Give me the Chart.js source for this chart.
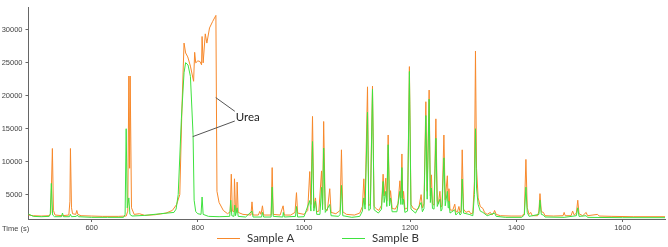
<!DOCTYPE html>
<html>
<head>
<meta charset="utf-8">
<script src="https://cdn.jsdelivr.net/npm/chart.js@4"></script>
<style>
  html, body { margin: 0; padding: 0; background: #fff; }
  #wrap { width: 668px; height: 247px; }
</style>
</head>
<body>
<div id="wrap"><canvas id="grafico"></canvas></div>
<script>
const timeA = [480,490,505,520,523,526,528,531,545,557,559,560,562,564,570,572,574,580,600,620,650,665,668,670,671.5,672.5,675,680,690,700,720,740,752,760,766,770,774,777,781,786,792,794,796,800,804,807,808,810,814,817,822,828,834,836,840,848,856,861,863,865,868,869,871,873,874,876,885,900,902,904,914,916.6,919,921.7,924,938,940,942,955,960.6,963,975,983,985.8,988,1000,1007,1010.8,1013,1016,1018.5,1021.6,1024,1028,1033,1035,1037,1040,1044,1048.5,1051,1060,1068,1070.5,1073,1080,1095,1105,1110,1112.7,1115,1119.6,1122,1125,1129,1132,1137,1141,1146,1149,1151,1154,1156,1158.5,1161,1163,1166,1172,1177,1180.6,1182.5,1184.4,1186,1187.5,1190,1195,1198.5,1201.5,1206,1212,1216,1220.6,1223,1226,1229.5,1232,1235.7,1238,1240,1242,1245,1248.4,1251,1253,1256,1258,1260,1263.5,1266,1270,1271.5,1273,1275,1280,1284,1286,1289,1291.8,1294,1296,1298,1300.5,1305,1311,1314,1318,1321,1323,1325,1328,1332,1337,1340,1345,1351,1354,1357,1359,1362,1370,1390,1410,1415,1418,1420.5,1424,1427,1430,1440,1442.5,1444.5,1447,1451,1454,1470,1488,1490,1492,1503,1506,1509,1513,1515.7,1518,1525,1531.5,1534,1553,1556,1580,1620,1680];
const sampleA = [1900,1800,1750,1800,2200,12000,2600,1900,1800,1900,4000,12000,3000,2100,2000,2600,2000,1800,1750,1700,1700,1750,2500,23000,9000,23000,3000,2000,2100,1850,1950,2200,2600,3500,5000,18000,28000,26500,25900,24500,22200,26600,25000,25300,25200,24700,29000,25000,29400,28000,30300,31300,32200,5500,3800,2600,2100,2400,8100,2500,2400,7400,2600,2300,6900,2300,2000,1900,3900,1900,1900,2450,2000,3300,1900,1900,9100,2000,1900,3300,1900,1900,2300,5300,2200,2000,2600,8500,3500,16870,3000,4500,2400,2500,8600,3500,16100,2800,2600,5900,2300,2100,2600,11800,2400,2000,1900,2200,3200,7400,3500,21360,3300,3600,21470,3200,2800,2600,3400,8100,4800,7500,4000,14050,4000,5600,2900,2800,3600,7100,4500,11170,4200,5500,2800,3000,24430,3500,2900,2700,2900,5000,3000,3600,19100,5500,20870,4800,8000,3600,3400,16500,4000,3600,5500,3100,3400,14050,4200,7860,4000,5900,2700,2600,3550,2400,2400,3200,2300,2600,11800,2800,2300,2500,2100,2200,7000,26800,9000,4500,3200,2900,2300,2000,2300,1900,2200,2600,2000,1800,1750,1750,2100,10340,3000,2000,2300,1800,1800,2500,5150,2400,2300,1800,1750,1800,2300,1800,1800,2500,1900,2200,4150,2100,1800,2300,1800,2000,1750,1700,1650,1650];

const timeB = [480,490,505,520,522,524,526.5,530,543,545,547,558,560,562,571,573,575,600,630,660,663,665,667,670,672,676,700,730,755,759,763,769,774,777,781.5,786,791,793,796,800,806,808,810,820,840,860,862,864,868,869.5,871,874,876,890,902,904,920,921.7,924,938,940,942,960,961,963,984,985.8,988,1000,1010.8,1013,1016,1018.5,1021.6,1024,1030,1033,1035,1037,1040,1048.5,1051,1065,1068,1070.5,1073,1090,1105,1110,1112.7,1115,1119.6,1122,1125,1129,1132,1140,1146,1149,1151,1154,1156,1158.5,1161,1163,1166,1175,1180.6,1182.5,1184.4,1186,1187.5,1190,1195,1198.5,1201.5,1210,1220.6,1223,1226,1229.5,1232,1235.7,1238,1240,1242,1245,1248.4,1251,1256,1258,1260,1263.5,1266,1270,1271.5,1273,1275,1284,1286,1291.8,1294,1296,1298,1300.5,1311,1318,1321,1323,1325,1328,1332,1337,1345,1359,1362,1380,1410,1415,1418,1420.5,1424,1442.5,1444.5,1447,1451,1454,1490,1513,1515.7,1518,1531.5,1534,1600,1680];
const sampleB = [2100,1700,1650,1700,2000,6700,1900,1650,1650,2200,1650,1650,2000,1650,1700,1900,1650,1550,1550,1550,2000,15000,3000,4500,2000,1750,1850,2100,2300,2800,5000,16500,23500,25030,24680,22950,14080,4150,2420,2100,2000,4640,2000,1700,1650,1700,4150,1800,1700,3400,1800,3000,1700,1600,2500,1600,1600,2300,1600,1600,6130,1700,1600,2300,1600,1700,3200,1600,1650,4100,2500,13060,2500,4000,2000,2000,6100,2700,12060,2300,3500,1800,1700,2000,6400,1800,1550,1700,2500,4500,2800,17500,2600,2800,20960,2700,2200,2800,7000,3800,5500,3200,12570,3300,4500,2400,2400,5500,3500,9100,3500,4300,2300,2500,23700,2800,2200,3800,2400,2900,17000,4300,19480,3800,6000,2900,2800,13550,3200,4300,2500,2800,10580,3300,5500,3000,4000,2200,2700,1900,2400,1900,2100,7370,2200,2000,1800,5000,15000,6000,3500,2500,2300,1800,2200,1700,1550,1550,1900,6130,2300,1700,2000,4150,2000,1900,1600,1550,1800,3000,1700,1800,1550,1500,1500];

const legendas = ['Sample A', 'Sample B'];
const cores = ['#f7892c', '#3fe23f'];
const yTicks = [5000, 10000, 15000, 20000, 25000, 30000];
const xTicks = [600, 800, 1000, 1200, 1400, 1600];

// anotação "Urea": pontos em unidades dos dados
const ureaTexto = { t: 871.5, v: 16770, label: 'Urea' };
const ureaLinhas = [
    [[833.7, 19730], [869.6, 17650]],
    [[790.4, 13800], [869.6, 16170]]
];

function juntar(ts, vs) {
    let pts = [];
    for (let i = 0; i < ts.length; i++) {
        pts.push({ x: ts[i], y: vs[i] });
    }
    return pts;
}

const pluginExtras = {
    id: 'extras',
    afterDatasetsDraw(chart) {
        const ctx = chart.ctx;
        const sx = chart.scales.x;
        const sy = chart.scales.y;
        const area = chart.chartArea;

        // linhas da anotação
        ctx.save();
        ctx.strokeStyle = '#555';
        ctx.lineWidth = 1;
        ureaLinhas.forEach(function (l) {
            ctx.beginPath();
            ctx.moveTo(sx.getPixelForValue(l[0][0]), sy.getPixelForValue(l[0][1]));
            ctx.lineTo(sx.getPixelForValue(l[1][0]), sy.getPixelForValue(l[1][1]));
            ctx.stroke();
        });
        ctx.fillStyle = '#222';
        ctx.font = '11.5px Lato';
        ctx.textAlign = 'left';
        ctx.textBaseline = 'middle';
        ctx.fillText(ureaTexto.label, sx.getPixelForValue(ureaTexto.t), sy.getPixelForValue(ureaTexto.v));

        // rótulo do eixo x à esquerda
        ctx.fillStyle = '#444';
        ctx.font = '7.5px "Liberation Sans"';
        ctx.fillText('Time (s)', 2, area.bottom + 10);

        // legenda
        const lx = [217, 342];
        const ly = 238.5;
        ctx.font = '11.5px Lato';
        for (let i = 0; i < legendas.length; i++) {
            ctx.strokeStyle = cores[i];
            ctx.beginPath();
            ctx.moveTo(lx[i], ly);
            ctx.lineTo(lx[i] + 23, ly);
            ctx.stroke();
            ctx.fillStyle = '#333';
            ctx.fillText(legendas[i], lx[i] + 30, ly);
        }
        ctx.restore();
    }
};

const eixoFonte = { family: 'Liberation Sans', size: 7.5 };

const configCromato = {
    type: 'line',
    data: {
        datasets: [{
            label: legendas[0],
            data: juntar(timeA, sampleA),
            borderColor: cores[0],
            borderWidth: 1,
            pointRadius: 0,
            tension: 0,
            order: 1
        }, {
            label: legendas[1],
            data: juntar(timeB, sampleB),
            borderColor: cores[1],
            borderWidth: 1,
            pointRadius: 0,
            tension: 0,
            order: 0
        }]
    },
    options: {
        responsive: false,
        animation: false,
        layout: { padding: { top: 3, right: 3, left: 0, bottom: 14 } },
        plugins: {
            legend: { display: false },
            tooltip: { enabled: false }
        },
        scales: {
            x: {
                type: 'linear',
                min: 481,
                max: 1680,
                afterBuildTicks: s => { s.ticks = xTicks.map(v => ({ value: v })); },
                afterFit: s => { s.height = 14; },
                ticks: { color: '#444', font: eixoFonte, maxRotation: 0, padding: 1, callback: v => String(v) },
                grid: { drawOnChartArea: false, drawTicks: true, tickLength: 3, color: '#666' },
                border: { color: '#666', width: 1 }
            },
            y: {
                min: 1300,
                max: 33400,
                afterBuildTicks: s => { s.ticks = yTicks.map(v => ({ value: v })); },
                afterFit: s => { s.width = 28.5; },
                ticks: { color: '#444', font: eixoFonte, padding: 3, callback: v => String(v) },
                grid: { drawOnChartArea: false, drawTicks: true, tickLength: 3, color: '#666' },
                border: { color: '#666', width: 1 }
            }
        }
    },
    plugins: [pluginExtras]
};

const canvas = document.getElementById('grafico');
canvas.width = 668;
canvas.height = 247;
let myChartCromato = new Chart(canvas, configCromato);
</script>
</body>
</html>
